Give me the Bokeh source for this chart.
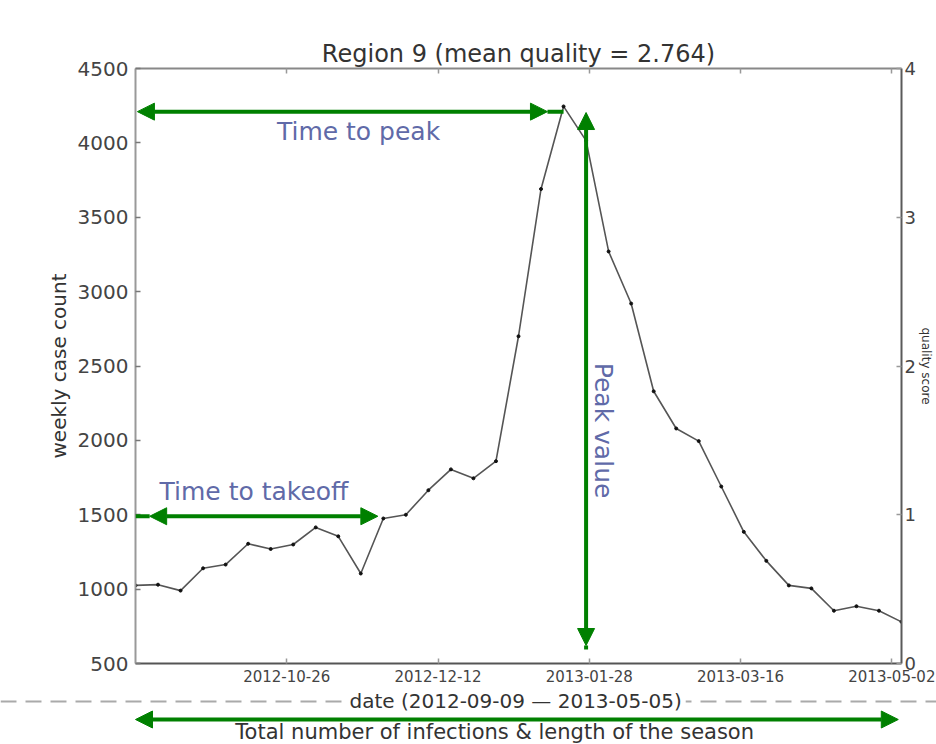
import math
import pandas as pd
from bokeh.plotting import figure
from bokeh.models import (Range1d, LinearAxis, DatetimeAxis, FixedTicker,
                          DatetimeTickFormatter, Arrow, NormalHead, Label, Span)
from bokeh.embed import file_html
from bokeh.resources import INLINE

# ---------------- data ----------------
title_text = "Region 9 (mean quality = 2.764)"
season_start = "2012-09-09"
season_end = "2013-05-05"
weeks = pd.date_range(season_start, season_end, freq="7D")
cases = [1025, 1030, 990, 1140, 1165, 1305, 1270, 1300, 1415, 1355,
         1105, 1475, 1500, 1665, 1805, 1745, 1860, 2700, 3690, 4245,
         4015, 3270, 2920, 2330, 2080, 1995, 1690, 1385, 1190, 1025,
         1005, 855, 885, 855, 780]
case_ticks = [500, 1000, 1500, 2000, 2500, 3000, 3500, 4000, 4500]
quality_ticks = [0, 1, 2, 3, 4]
date_ticks = ["2012-10-26", "2012-12-12", "2013-01-28", "2013-03-16", "2013-05-02"]
x_label = "date (2012-09-09 \u2014 2013-05-05)"
y_label = "weekly case count"
y2_label = "quality score"
peak_text = "Time to peak"
takeoff_text = "Time to takeoff"
peak_value_text = "Peak value"
total_text = "Total number of infections & length of the season"

FONT = "DejaVu Sans"
GREEN = "#008000"
ANNO = "#606aa8"
DAY = 86400000.0

# layout (pixels)
W, H_MAIN, H_BOT = 936, 688, 56
F_LEFT, F_RIGHT, F_TOP, F_BOTTOM = 135, 901, 68, 663


def ms(d):
    return pd.Timestamp(d).value / 1e6


T0 = ms(season_start)
T1 = ms(season_end)


def t(days):
    return T0 + days * DAY


p = figure(width=W, height=H_MAIN, x_axis_type=None, y_axis_type=None,
           x_range=Range1d(T0, T1), y_range=Range1d(500, 4500),
           output_backend="svg", toolbar_location=None,
           min_border_left=F_LEFT, min_border_right=W - F_RIGHT,
           min_border_top=F_TOP, min_border_bottom=H_MAIN - F_BOTTOM)
p.outline_line_color = None
p.background_fill_color = "white"
p.border_fill_color = "white"

p.title.text = title_text
p.title.text_font = FONT
p.title.text_font_size = "24px"
p.title.text_font_style = "normal"
p.title.text_color = "#333333"
p.title.align = "center"
p.title.standoff = 2

fmt = DatetimeTickFormatter(days="%Y-%m-%d", months="%Y-%m-%d", years="%Y-%m-%d",
                            hours="%Y-%m-%d", hourmin="%Y-%m-%d")
xticker = FixedTicker(ticks=[ms(d) for d in date_ticks])


def style(ax, size, standoff):
    ax.major_tick_in = 5
    ax.major_tick_out = 0
    ax.minor_tick_in = 0
    ax.minor_tick_out = 0
    ax.axis_line_width = 2
    ax.major_tick_line_width = 1.5
    ax.major_label_text_font = FONT
    ax.major_label_text_font_size = size
    ax.major_label_text_color = "#444444"
    ax.major_label_standoff = standoff


xaxis = DatetimeAxis(ticker=xticker, formatter=fmt)
style(xaxis, "15px", 6)
xaxis.axis_line_color = "#555555"
xaxis.major_tick_line_color = "#999999"
p.add_layout(xaxis, "below")

top = DatetimeAxis(ticker=xticker, formatter=fmt)
style(top, "0px", 0)
top.axis_line_color = "#888888"
top.major_tick_line_color = "#999999"
top.major_label_text_alpha = 0
p.add_layout(top, "above")

yaxis = LinearAxis(ticker=FixedTicker(ticks=case_ticks), axis_label=y_label)
style(yaxis, "20px", 7)
yaxis.axis_line_color = "#999999"
yaxis.major_tick_line_color = "#777777"
yaxis.axis_label_text_font = FONT
yaxis.axis_label_text_font_size = "20px"
yaxis.axis_label_text_font_style = "normal"
yaxis.axis_label_text_color = "#333333"
yaxis.axis_label_standoff = 4
p.add_layout(yaxis, "left")

p.extra_y_ranges = {"q": Range1d(0, 4)}
y2 = LinearAxis(y_range_name="q", ticker=FixedTicker(ticks=quality_ticks),
                axis_label=y2_label)
style(y2, "18px", 3)
y2.axis_line_color = "#5a5a5a"
y2.major_tick_line_color = "#999999"
y2.axis_label_text_font = FONT
y2.axis_label_text_font_size = "12px"
y2.axis_label_text_font_style = "normal"
y2.axis_label_text_color = "#333333"
y2.axis_label_standoff = 0
p.add_layout(y2, "right")

# data line
p.line(weeks, cases, line_color="#555555", line_width=1.6)
p.scatter(weeks, cases, size=3, color="#111111")


def head():
    return NormalHead(size=17, fill_color=GREEN, line_color=GREEN)


def arrow(fig, x0, y0, x1, y1, heads=True):
    fig.add_layout(Arrow(x_start=x0, y_start=y0, x_end=x1, y_end=y1,
                         line_color=GREEN, line_width=4,
                         start=head() if heads else None,
                         end=head() if heads else None))


# time to peak
arrow(p, t(0.6), 4210, t(128), 4210)
arrow(p, t(128), 4210, t(133), 4210, heads=False)
# time to takeoff
arrow(p, t(4.4), 1490, t(75.3), 1490)
arrow(p, t(0), 1490, t(4.4), 1490, heads=False)
# peak value
arrow(p, t(140), 4204, t(140), 621)
arrow(p, t(140), 621, t(140), 594, heads=False)


def label(fig, x, y, text, size="25px", color=ANNO, angle=0.0, align="center",
          baseline="alphabetic", **kw):
    fig.add_layout(Label(x=x, y=y, text=text, text_font=FONT, text_font_size=size,
                         text_color=color, angle=angle, text_align=align,
                         text_baseline=baseline, **kw))


label(p, t(69.3), 4076, peak_text)
label(p, t(36.8), 1656, takeoff_text)
label(p, t(145.4), 2066, peak_value_text, angle=-math.pi / 2, baseline="middle")

# ---------------- bottom strip (same time scale, full width) ----------------
days_per_px = (T1 - T0) / DAY / (F_RIGHT - F_LEFT)
q = figure(width=W, height=H_BOT, x_axis_type=None, y_axis_type=None,
           x_range=Range1d(t(-F_LEFT * days_per_px),
                           T1 + (W - F_RIGHT) * days_per_px * DAY),
           y_range=Range1d(H_BOT, 0),  # pixels from the strip's top
           output_backend="svg", toolbar_location=None, min_border=0)
q.outline_line_color = None
q.background_fill_color = "white"
q.border_fill_color = "white"
q.xgrid.visible = False
q.ygrid.visible = False

q.add_layout(Span(location=13, dimension="width", line_color="#aaaaaa",
                  line_width=2, line_dash="16 9"))
label(q, t(118.1), 12, x_label, size="20px", color="#333333", baseline="middle",
      background_fill_color="white", padding=4)
arrow(q, t(0), 31, t(237), 31)
label(q, t(111.6), 43, total_text, size="21px", color="#333333")

open("out.html", "w").write(file_html([p, q], INLINE))
